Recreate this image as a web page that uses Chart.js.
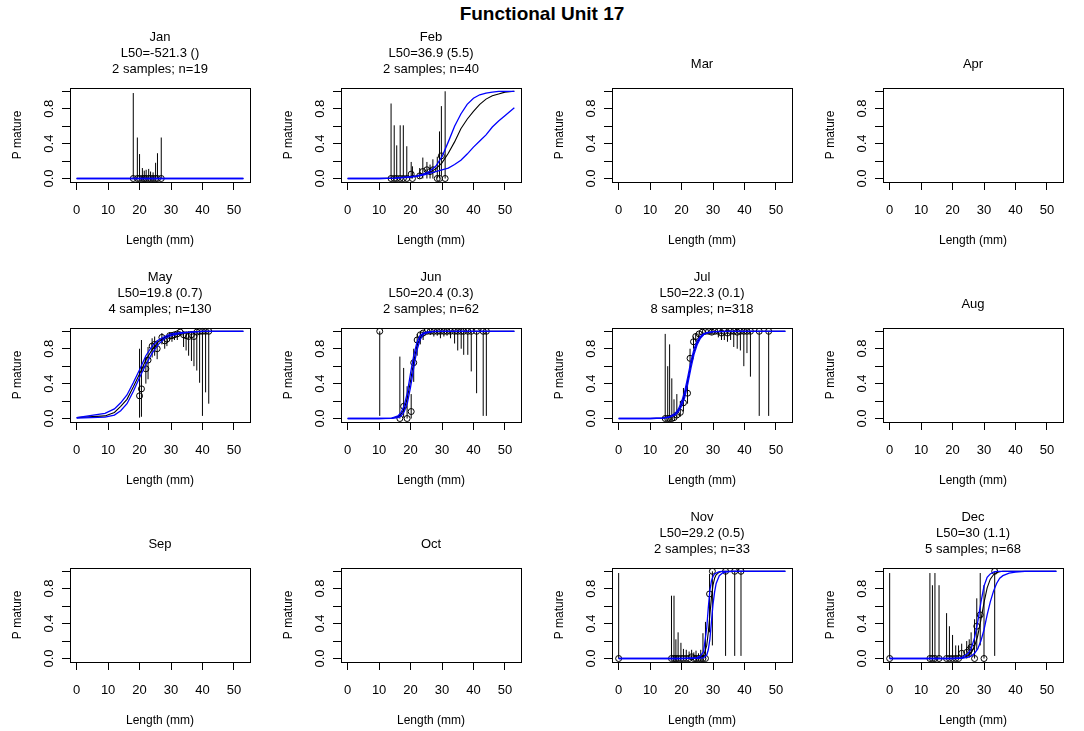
<!DOCTYPE html>
<html>
<head>
<meta charset="utf-8">
<title>Functional Unit 17</title>
<script src="https://cdn.jsdelivr.net/npm/chart.js@4.4.0/dist/chart.umd.min.js"></script>
<style>
  body { margin: 0; background: #fff; }
  #wrap { position: relative; width: 1084px; height: 731px; background: #fff; overflow: hidden; }
  #main { position: absolute; left: 0; top: 4px; width: 1084px; text-align: center;
          font: bold 19px "Liberation Sans", Arial, sans-serif; line-height: 20px; color: #000; }
  .panel { position: absolute; width: 271px; height: 240px; }
</style>
</head>
<body>
<div id="wrap">
  <div id="main">Functional Unit 17</div>
</div>
<script>
var months = ['Jan', 'Feb', 'Mar', 'Apr', 'May', 'Jun', 'Jul', 'Aug', 'Sep', 'Oct', 'Nov', 'Dec'];
var xTicks = [0, 10, 20, 30, 40, 50];
var xTickLabels = ['0', '10', '20', '30', '40', '50'];
var yTicks = [0, 0.2, 0.4, 0.6, 0.8, 1];
var yTickLabels = ['0.0', '', '0.4', '', '0.8', ''];

// Jan
var janInfo = ['L50=-521.3 ()', '2 samples; n=19'];
var janLen = [18.0, 19.3, 20.0, 20.9, 21.5, 22.1, 22.9, 23.5, 24.3, 25.1, 25.7, 26.9];
var janP = [0, 0, 0, 0, 0, 0, 0, 0, 0, 0, 0, 0];
var janLo = [0, 0, 0, 0, 0, 0, 0, 0, 0, 0, 0, 0];
var janHi = [0.98, 0.47, 0.28, 0.12, 0.09, 0.10, 0.11, 0.08, 0.07, 0.18, 0.29, 0.47];
var janCurveX = [0, 53];
var janFit = [0, 0];
var janUpper = [0, 0];
var janLower = [0, 0];

// Feb
var febInfo = ['L50=36.9 (5.5)', '2 samples; n=40'];
var febLen = [13.8, 14.8, 15.6, 16.7, 17.7, 18.8, 20.2, 20.6, 22.9, 23.9, 25.2, 26.2, 27.1, 28.5, 29.2, 29.8, 31.0];
var febP = [0, 0, 0, 0, 0, 0, 0.05, 0, 0.03, 0.08, 0.10, 0.08, 0.10, 0, 0, 0.26, 0];
var febLo = [0, 0, 0, 0, 0, 0, 0, 0, 0, 0, 0, 0, 0, 0, 0, 0.03, 0];
var febHi = [0.86, 0.61, 0.38, 0.61, 0.61, 0.37, 0.19, 0.14, 0.12, 0.24, 0.19, 0.16, 0.22, 0.25, 0.54, 0.83, 1.0];
var febCurveX = [0, 5, 10, 15, 20, 22, 24, 26, 28, 30, 32, 34, 36, 38, 40, 42, 44, 46, 48, 50, 53];
var febFit = [0, 0, 0, 0.005, 0.02, 0.03, 0.045, 0.07, 0.11, 0.18, 0.29, 0.42, 0.57, 0.68, 0.77, 0.85, 0.91, 0.95, 0.97, 0.99, 1.0];
var febUpper = [0, 0, 0, 0.005, 0.02, 0.03, 0.05, 0.08, 0.14, 0.25, 0.42, 0.60, 0.74, 0.85, 0.92, 0.96, 0.98, 0.99, 1.0, 1.0, 1.0];
var febLower = [0, 0, 0, 0.005, 0.015, 0.025, 0.04, 0.06, 0.08, 0.10, 0.12, 0.16, 0.21, 0.28, 0.36, 0.43, 0.50, 0.59, 0.66, 0.72, 0.81];

// May
var mayInfo = ['L50=19.8 (0.7)', '4 samples; n=130'];
var mayLen = [20.0, 20.6, 22.0, 22.7, 24.0, 24.8, 25.6, 27.1, 28.0, 28.7, 29.6, 30.3, 31.1, 32.0, 32.9, 34.0, 34.8, 35.6, 36.5, 37.3, 38.2, 39.1, 40.0, 41.0, 42.0];
var mayP = [0.26, 0.34, 0.57, 0.67, 0.83, 0.85, 0.80, 0.93, 0.89, 0.91, 0.95, 0.95, 0.96, 0.97, 0.99, 0.96, 0.95, 0.94, 0.96, 0.94, 0.99, 1.0, 1.0, 1.0, 1.0];
var mayLo = [0.01, 0.02, 0.40, 0.45, 0.70, 0.72, 0.68, 0.85, 0.80, 0.83, 0.90, 0.88, 0.90, 0.90, 0.95, 0.82, 0.78, 0.72, 0.66, 0.60, 0.55, 0.41, 0.03, 0.30, 0.17];
var mayHi = [0.80, 0.90, 0.71, 0.82, 0.92, 0.94, 0.90, 0.98, 0.95, 0.96, 0.99, 0.99, 0.99, 0.99, 1.0, 1.0, 1.0, 1.0, 1.0, 1.0, 1.0, 1.0, 1.0, 1.0, 1.0];
var mayCurveX = [0, 9, 12, 14, 16, 18, 20, 22, 24, 26, 28, 30, 33, 36, 40, 44, 53];
var mayFit = [0.01, 0.03, 0.07, 0.14, 0.22, 0.36, 0.51, 0.67, 0.79, 0.88, 0.93, 0.96, 0.98, 0.99, 1.0, 1.0, 1.0];
var mayUpper = [0.01, 0.06, 0.11, 0.18, 0.27, 0.41, 0.56, 0.72, 0.83, 0.90, 0.94, 0.97, 0.985, 0.99, 1.0, 1.0, 1.0];
var mayLower = [0.005, 0.015, 0.04, 0.09, 0.17, 0.31, 0.47, 0.62, 0.75, 0.85, 0.92, 0.95, 0.975, 0.99, 1.0, 1.0, 1.0];

// Jun
var junInfo = ['L50=20.4 (0.3)', '2 samples; n=62'];
var junLen = [10.2, 16.6, 17.8, 18.9, 20.2, 21.0, 22.1, 23.1, 24.0, 25.2, 26.3, 27.4, 28.5, 29.5, 30.6, 31.6, 32.7, 34.0, 35.0, 36.1, 36.9, 38.2, 39.3, 41.0, 43.1, 44.1];
var junP = [1, 0, 0.14, 0, 0.08, 0.64, 0.90, 0.96, 0.98, 1, 1, 1, 1, 1, 1, 1, 1, 1, 1, 1, 1, 1, 1, 1, 1, 1];
var junLo = [0.03, 0, 0.01, 0, 0, 0.42, 0.72, 0.85, 0.90, 0.97, 0.96, 0.94, 0.95, 0.92, 0.94, 0.95, 0.92, 0.86, 0.78, 0.80, 0.73, 0.73, 0.54, 0.29, 0.03, 0.03];
var junHi = [1, 0.71, 0.58, 0.37, 0.28, 0.80, 0.97, 0.99, 1, 1, 1, 1, 1, 1, 1, 1, 1, 1, 1, 1, 1, 1, 1, 1, 1, 1];
var junCurveX = [0, 10, 14, 16, 17, 18, 19, 20, 21, 22, 23, 24, 25, 27, 30, 53];
var junFit = [0, 0, 0.003, 0.02, 0.05, 0.11, 0.24, 0.43, 0.65, 0.83, 0.92, 0.97, 0.985, 0.997, 1, 1];
var junUpper = [0, 0, 0.005, 0.03, 0.07, 0.15, 0.30, 0.52, 0.72, 0.87, 0.95, 0.98, 0.99, 1, 1, 1];
var junLower = [0, 0, 0.002, 0.01, 0.03, 0.08, 0.18, 0.36, 0.58, 0.78, 0.90, 0.96, 0.98, 0.995, 1, 1];

// Jul
var julInfo = ['L50=22.3 (0.1)', '8 samples; n=318'];
var julLen = [14.8, 15.6, 16.2, 16.9, 17.6, 18.5, 19.6, 20.6, 21.9, 22.7, 23.8, 24.5, 25.6, 26.6, 27.6, 28.6, 29.6, 30.6, 31.7, 32.7, 33.6, 34.6, 35.6, 36.6, 37.7, 38.7, 39.8, 40.8, 41.9, 44.7, 47.7];
var julP = [0, 0, 0, 0, 0.01, 0.04, 0.07, 0.18, 0.29, 0.69, 0.88, 0.94, 0.97, 0.99, 1, 1, 0.99, 1, 1, 0.98, 1, 0.98, 1, 1, 0.99, 1, 1, 1, 1, 1, 1];
var julLo = [0, 0, 0, 0, 0, 0.01, 0.02, 0.08, 0.17, 0.58, 0.80, 0.88, 0.93, 0.96, 0.98, 0.97, 0.96, 0.97, 0.93, 0.90, 0.90, 0.88, 0.90, 0.82, 0.80, 0.78, 0.60, 0.75, 0.48, 0.03, 0.03];
var julHi = [0.97, 0.60, 0.85, 0.46, 0.22, 0.28, 0.20, 0.35, 0.45, 0.80, 0.94, 0.98, 0.99, 1, 1, 1, 1, 1, 1, 1, 1, 1, 1, 1, 1, 1, 1, 1, 1, 1, 1];
var julCurveX = [0, 10, 14, 16, 18, 19, 20, 21, 22, 23, 24, 25, 26, 27, 28, 30, 35, 53];
var julFit = [0, 0, 0.005, 0.015, 0.05, 0.09, 0.16, 0.27, 0.44, 0.62, 0.77, 0.87, 0.93, 0.965, 0.98, 0.995, 1, 1];
var julUpper = [0, 0, 0.006, 0.018, 0.06, 0.11, 0.19, 0.31, 0.48, 0.66, 0.80, 0.89, 0.94, 0.97, 0.985, 0.997, 1, 1];
var julLower = [0, 0, 0.004, 0.012, 0.04, 0.08, 0.14, 0.24, 0.40, 0.58, 0.74, 0.85, 0.92, 0.96, 0.98, 0.995, 1, 1];

// Nov
var novInfo = ['L50=29.2 (0.5)', '2 samples; n=33'];
var novLen = [0, 16.8, 17.6, 18.2, 18.9, 19.8, 20.6, 21.5, 22.4, 23.2, 23.9, 24.6, 25.4, 26.1, 26.8, 27.6, 28.9, 29.8, 34.0, 36.9, 38.9];
var novP = [0, 0, 0, 0, 0, 0, 0, 0, 0, 0.02, 0, 0, 0, 0, 0, 0, 0.74, 1, 1, 1, 1];
var novLo = [0, 0, 0, 0, 0, 0, 0, 0, 0, 0, 0, 0, 0, 0, 0, 0, 0.30, 0.15, 0.03, 0.03, 0.03];
var novHi = [0.98, 0.72, 0.72, 0.22, 0.30, 0.18, 0.11, 0.10, 0.08, 0.10, 0.07, 0.09, 0.06, 0.10, 0.29, 0.42, 0.97, 1, 1, 1, 1];
var novCurveX = [0, 20, 25, 26, 27, 28, 28.5, 29, 29.5, 30, 30.5, 31, 32, 33, 34, 36, 53];
var novFit = [0, 0, 0.003, 0.01, 0.03, 0.15, 0.30, 0.50, 0.70, 0.84, 0.92, 0.96, 0.99, 1, 1, 1, 1];
var novUpper = [0, 0, 0.01, 0.03, 0.08, 0.35, 0.58, 0.78, 0.89, 0.94, 0.97, 0.98, 0.995, 1, 1, 1, 1];
var novLower = [0, 0, 0.001, 0.004, 0.01, 0.04, 0.10, 0.22, 0.42, 0.62, 0.76, 0.86, 0.95, 0.98, 0.99, 1, 1];

// Dec
var decInfo = ['L50=30 (1.1)', '5 samples; n=68'];
var decLen = [0, 12.8, 13.6, 14.4, 15.7, 18.1, 19.0, 20.0, 21.0, 21.9, 22.9, 24.5, 25.3, 25.9, 27.0, 27.7, 28.8, 30.0, 33.4];
var decP = [0, 0, 0, 0, 0, 0, 0, 0, 0, 0, 0.06, 0.07, 0.10, 0.13, 0, 0.37, 0.50, 0, 1];
var decLo = [0, 0, 0, 0, 0, 0, 0, 0, 0, 0, 0, 0, 0.01, 0.03, 0, 0.10, 0.15, 0, 0.03];
var decHi = [0.98, 0.98, 0.84, 0.98, 0.84, 0.52, 0.37, 0.27, 0.15, 0.15, 0.17, 0.20, 0.22, 0.30, 0.45, 0.69, 0.98, 0.84, 1];
var decCurveX = [0, 20, 23, 25, 26, 27, 28, 29, 30, 31, 32, 33, 34, 35, 36, 38, 40, 43, 53];
var decFit = [0, 0, 0.005, 0.03, 0.07, 0.14, 0.26, 0.44, 0.64, 0.81, 0.91, 0.96, 0.985, 0.995, 1, 1, 1, 1, 1];
var decUpper = [0, 0, 0.01, 0.06, 0.12, 0.24, 0.42, 0.64, 0.83, 0.93, 0.97, 0.99, 1, 1, 1, 1, 1, 1, 1];
var decLower = [0, 0, 0.002, 0.015, 0.03, 0.06, 0.11, 0.20, 0.33, 0.50, 0.65, 0.77, 0.86, 0.92, 0.95, 0.98, 0.99, 1, 1];

var panels = {
  Jan: { info: janInfo, len: janLen, p: janP, lo: janLo, hi: janHi, cx: janCurveX, fit: janFit, upper: janUpper, lower: janLower },
  Feb: { info: febInfo, len: febLen, p: febP, lo: febLo, hi: febHi, cx: febCurveX, fit: febFit, upper: febUpper, lower: febLower },
  May: { info: mayInfo, len: mayLen, p: mayP, lo: mayLo, hi: mayHi, cx: mayCurveX, fit: mayFit, upper: mayUpper, lower: mayLower },
  Jun: { info: junInfo, len: junLen, p: junP, lo: junLo, hi: junHi, cx: junCurveX, fit: junFit, upper: junUpper, lower: junLower },
  Jul: { info: julInfo, len: julLen, p: julP, lo: julLo, hi: julHi, cx: julCurveX, fit: julFit, upper: julUpper, lower: julLower },
  Nov: { info: novInfo, len: novLen, p: novP, lo: novLo, hi: novHi, cx: novCurveX, fit: novFit, upper: novUpper, lower: novLower },
  Dec: { info: decInfo, len: decLen, p: decP, lo: decLo, hi: decHi, cx: decCurveX, fit: decFit, upper: decUpper, lower: decLower }
};

var FONT = '"Liberation Sans", Arial, sans-serif';

// frame round the plot region, like R's box()
var boxPlugin = {
  id: 'box',
  afterDraw: function (chart) {
    var a = chart.chartArea, ctx = chart.ctx;
    ctx.save();
    ctx.strokeStyle = '#000';
    ctx.lineWidth = 1;
    ctx.strokeRect(Math.round(a.left) + 0.5, Math.round(a.top) + 0.5,
                   Math.round(a.right - a.left), Math.round(a.bottom - a.top));
    ctx.restore();
  }
};

// centre the panel title over the plot region instead of the whole canvas
var centerTitle = {
  id: 'centerTitle',
  afterLayout: function (chart) {
    var t = chart.titleBlock;
    if (t) {
      t.left = chart.chartArea.left;
      t.right = chart.chartArea.right;
      t.width = t.right - t.left;
    }
  }
};

function xy(xs, ys) {
  return xs.map(function (x, i) { return { x: x, y: ys[i] }; });
}

function segments(len, lo, hi) {
  var out = [];
  for (var i = 0; i < len.length; i++) {
    out.push({ x: len[i], y: lo[i] }, { x: len[i], y: hi[i] }, { x: len[i], y: null });
  }
  return out;
}

function curve(data, color, width) {
  return { type: 'line', data: data, borderColor: color, borderWidth: width,
           pointRadius: 0, tension: 0, fill: false };
}

var wrap = document.getElementById('wrap');

months.forEach(function (m, k) {
  var row = Math.floor(k / 4), col = k % 4;
  var canvas = document.createElement('canvas');
  canvas.className = 'panel';
  canvas.width = 271;
  canvas.height = 240;
  canvas.style.left = (271 * col) + 'px';
  canvas.style.top = (11 + 240 * row) + 'px';
  wrap.appendChild(canvas);

  var d = panels[m];
  var datasets = [];
  var titleText, titlePad;
  if (d) {
    datasets.push(curve(xy(d.cx, d.upper), '#0000ff', 1.3));
    datasets.push(curve(xy(d.cx, d.lower), '#0000ff', 1.3));
    datasets.push(curve(xy(d.cx, d.fit), '#000000', 1.1));
    datasets.push({ type: 'line', data: xy(d.len, d.p), showLine: false,
                    pointRadius: 3, pointBorderWidth: 1, pointBorderColor: '#000',
                    pointBackgroundColor: 'rgba(0,0,0,0)' });
    datasets.push({ type: 'line', data: segments(d.len, d.lo, d.hi), borderColor: '#000',
                    borderWidth: 1, pointRadius: 0, spanGaps: false, tension: 0 });
    titleText = [m].concat(d.info);
    titlePad = { top: 19, bottom: 11 };
  } else {
    titleText = m;
    titlePad = { top: 46, bottom: 15 };
  }

  new Chart(canvas, {
    type: 'line',
    data: { datasets: datasets },
    options: {
      responsive: false,
      animation: false,
      devicePixelRatio: 1,
      events: [],
      layout: { padding: { left: 0, right: 21, top: 0, bottom: 0 }, autoPadding: false },
      plugins: {
        legend: { display: false },
        tooltip: { enabled: false },
        title: {
          display: true,
          text: titleText,
          color: '#000',
          font: { family: FONT, size: 13, weight: 'normal', lineHeight: 1.2 },
          padding: titlePad
        }
      },
      scales: {
        x: {
          type: 'linear',
          min: -2.12,
          max: 55.12,
          afterBuildTicks: function (s) { s.ticks = xTicks.map(function (v) { return { value: v }; }); },
          afterFit: function (s) { s.height = 69; },
          border: { display: false },
          grid: { drawOnChartArea: false, drawTicks: true, tickLength: 8, color: '#000', lineWidth: 1 },
          ticks: {
            color: '#000', font: { family: FONT, size: 13 }, padding: 13,
            maxRotation: 0, autoSkip: false,
            callback: function (v, i) { return xTickLabels[i]; }
          },
          title: { display: true, text: 'Length (mm)', color: '#000',
                   font: { family: FONT, size: 12 }, padding: { top: 0, bottom: 3 } }
        },
        y: {
          type: 'linear',
          min: -0.04,
          max: 1.04,
          afterBuildTicks: function (s) { s.ticks = yTicks.map(function (v) { return { value: v }; }); },
          afterFit: function (s) { s.width = 70; },
          border: { display: false },
          grid: { drawOnChartArea: false, drawTicks: true, tickLength: 8, color: '#000', lineWidth: 1 },
          ticks: {
            color: '#000', font: { family: FONT, size: 13 }, padding: 4,
            minRotation: 90, maxRotation: 90, crossAlign: 'center', autoSkip: false,
            callback: function (v, i) { return yTickLabels[i]; }
          },
          title: { display: true, text: 'P mature', color: '#000',
                   font: { family: FONT, size: 12 }, padding: { top: 10, bottom: 0 } }
        }
      }
    },
    plugins: [boxPlugin, centerTitle]
  });
});
</script>
</body>
</html>
